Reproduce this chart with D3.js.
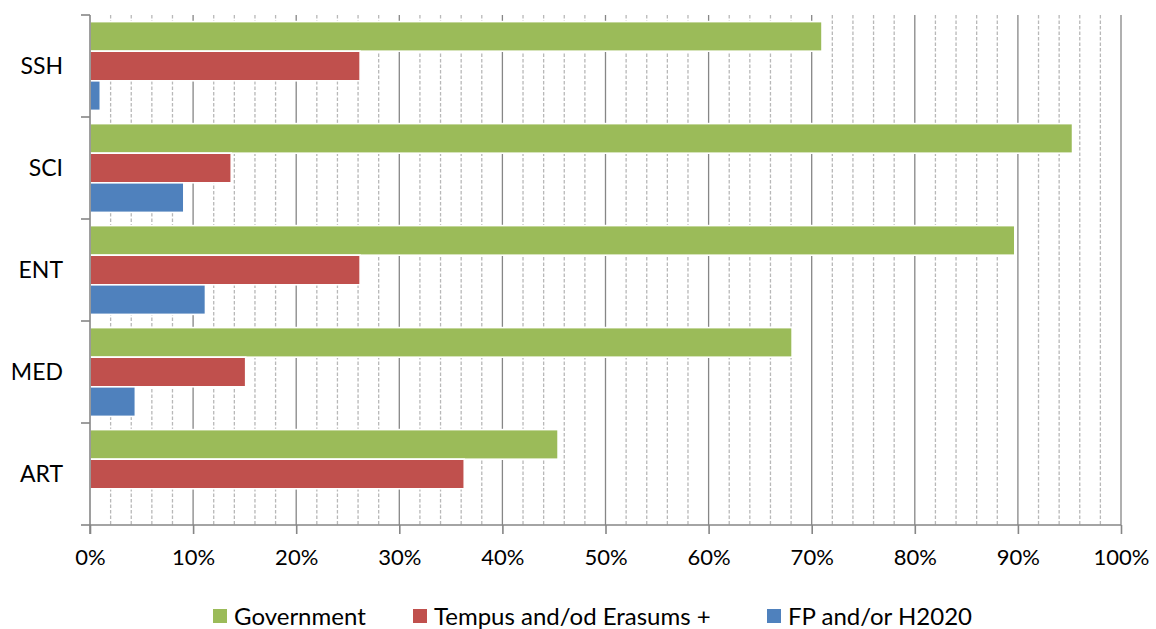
<!DOCTYPE html>
<html>
<head>
<meta charset="utf-8">
<script src="https://cdn.jsdelivr.net/npm/d3@7"></script>
<style>
  html, body { margin: 0; padding: 0; background: #ffffff; }
  svg { display: block; }
  text { font-family: Lato, "Open Sans", sans-serif; fill: #000; }
</style>
</head>
<body>
<svg id="chart" width="1156" height="629"></svg>
<script>
// Funding sources by scientific field (share of respondents)
const categories = ["SSH", "SCI", "ENT", "MED", "ART"];
const seriesNames = ["Government", "Tempus and/od Erasums +", "FP and/or H2020"];
const seriesColors = ["#9BBB59", "#C0504D", "#4F81BD"];
const government = [0.710, 0.953, 0.897, 0.681, 0.454];
const tempusErasmus = [0.262, 0.137, 0.262, 0.151, 0.363];
const fpH2020 = [0.010, 0.091, 0.112, 0.044, 0.000];
const tickValues = [0, 0.1, 0.2, 0.3, 0.4, 0.5, 0.6, 0.7, 0.8, 0.9, 1.0];

const seriesValues = [government, tempusErasmus, fpH2020];
const rows = categories.map((c, i) => ({
  category: c,
  values: seriesNames.map((s, j) => ({ series: s, color: seriesColors[j], value: seriesValues[j][i] }))
}));

const svg = d3.select("#chart");
const plot = { left: 90, right: 1121, top: 15, bottom: 525 };

const x = d3.scaleLinear().domain([0, 1]).range([plot.left, plot.right]);
const y0 = d3.scaleBand().domain(categories).range([plot.top, plot.bottom]).padding(0);
const y1 = d3.scaleBand().domain(seriesNames).range([0, y0.bandwidth()])
  .paddingInner(0).paddingOuter(0.223);

const axisColor = "#868686";

// Minor dashed gridlines every 2%
const minorTicks = d3.range(1, 50).map(d => d * 0.02).filter(d => Math.round(d * 100) % 10 !== 0);
svg.append("g").selectAll("line").data(minorTicks).join("line")
  .attr("x1", d => x(d)).attr("x2", d => x(d))
  .attr("y1", plot.top).attr("y2", plot.bottom)
  .attr("stroke", "#b8b8b8").attr("stroke-width", 1.3)
  .attr("stroke-dasharray", "3.5,2");

// Major gridlines every 10%
svg.append("g").selectAll("line").data(tickValues.slice(1)).join("line")
  .attr("x1", d => x(d)).attr("x2", d => x(d))
  .attr("y1", plot.top).attr("y2", plot.bottom)
  .attr("stroke", axisColor).attr("stroke-width", 1.3);

// Bars
const groups = svg.append("g").selectAll("g").data(rows).join("g")
  .attr("transform", d => `translate(0,${y0(d.category)})`);
groups.selectAll("rect").data(d => d.values.filter(v => v.value > 0)).join("rect")
  .attr("x", x(0))
  .attr("y", d => y1(d.series))
  .attr("width", d => x(d.value) - x(0))
  .attr("height", y1.bandwidth())
  .attr("fill", d => d.color)
  .attr("stroke", "#ffffff")
  .attr("stroke-width", 1.6);

// X axis
const xAxis = d3.axisBottom(x).tickValues(tickValues)
  .tickFormat(d3.format(".0%")).tickSize(9).tickPadding(15);
const gx = svg.append("g").attr("transform", `translate(0,${plot.bottom})`).call(xAxis);
gx.select(".domain").attr("stroke", axisColor).attr("stroke-width", 1.6)
  .attr("d", `M${plot.left},0H${plot.right}`);
gx.selectAll(".tick line").attr("stroke", axisColor).attr("stroke-width", 1.6);
gx.selectAll(".tick text").style("font-size", "22px").style("font-family", "Lato, sans-serif").attr("fill", "#000");

// Y axis: tick marks at category boundaries, labels at category centres
const gy = svg.append("g");
gy.append("line")
  .attr("x1", plot.left).attr("x2", plot.left)
  .attr("y1", plot.top).attr("y2", plot.bottom + 9)
  .attr("stroke", axisColor).attr("stroke-width", 1.6);
const boundaries = categories.map(c => y0(c)).concat([plot.bottom]);
gy.selectAll("line.tk").data(boundaries).join("line").attr("class", "tk")
  .attr("x1", plot.left - 9).attr("x2", plot.left)
  .attr("y1", d => d).attr("y2", d => d)
  .attr("stroke", axisColor).attr("stroke-width", 1.6);
gy.selectAll("text").data(categories).join("text")
  .attr("x", 63)
  .attr("y", d => y0(d) + y0.bandwidth() / 2)
  .attr("dy", "0.35em")
  .attr("text-anchor", "end")
  .style("font-size", "23px")
  .text(d => d);

// Legend
const legendX = [213, 413, 767];
const legend = svg.append("g").selectAll("g").data(seriesNames).join("g")
  .attr("transform", (d, i) => `translate(${legendX[i]},616)`);
legend.append("rect")
  .attr("x", 0).attr("y", -7).attr("width", 14).attr("height", 14)
  .attr("fill", (d, i) => seriesColors[i]);
legend.append("text")
  .attr("x", 21).attr("y", 0).attr("dy", "0.36em")
  .style("font-size", "24px")
  .text(d => d);
</script>
</body>
</html>
